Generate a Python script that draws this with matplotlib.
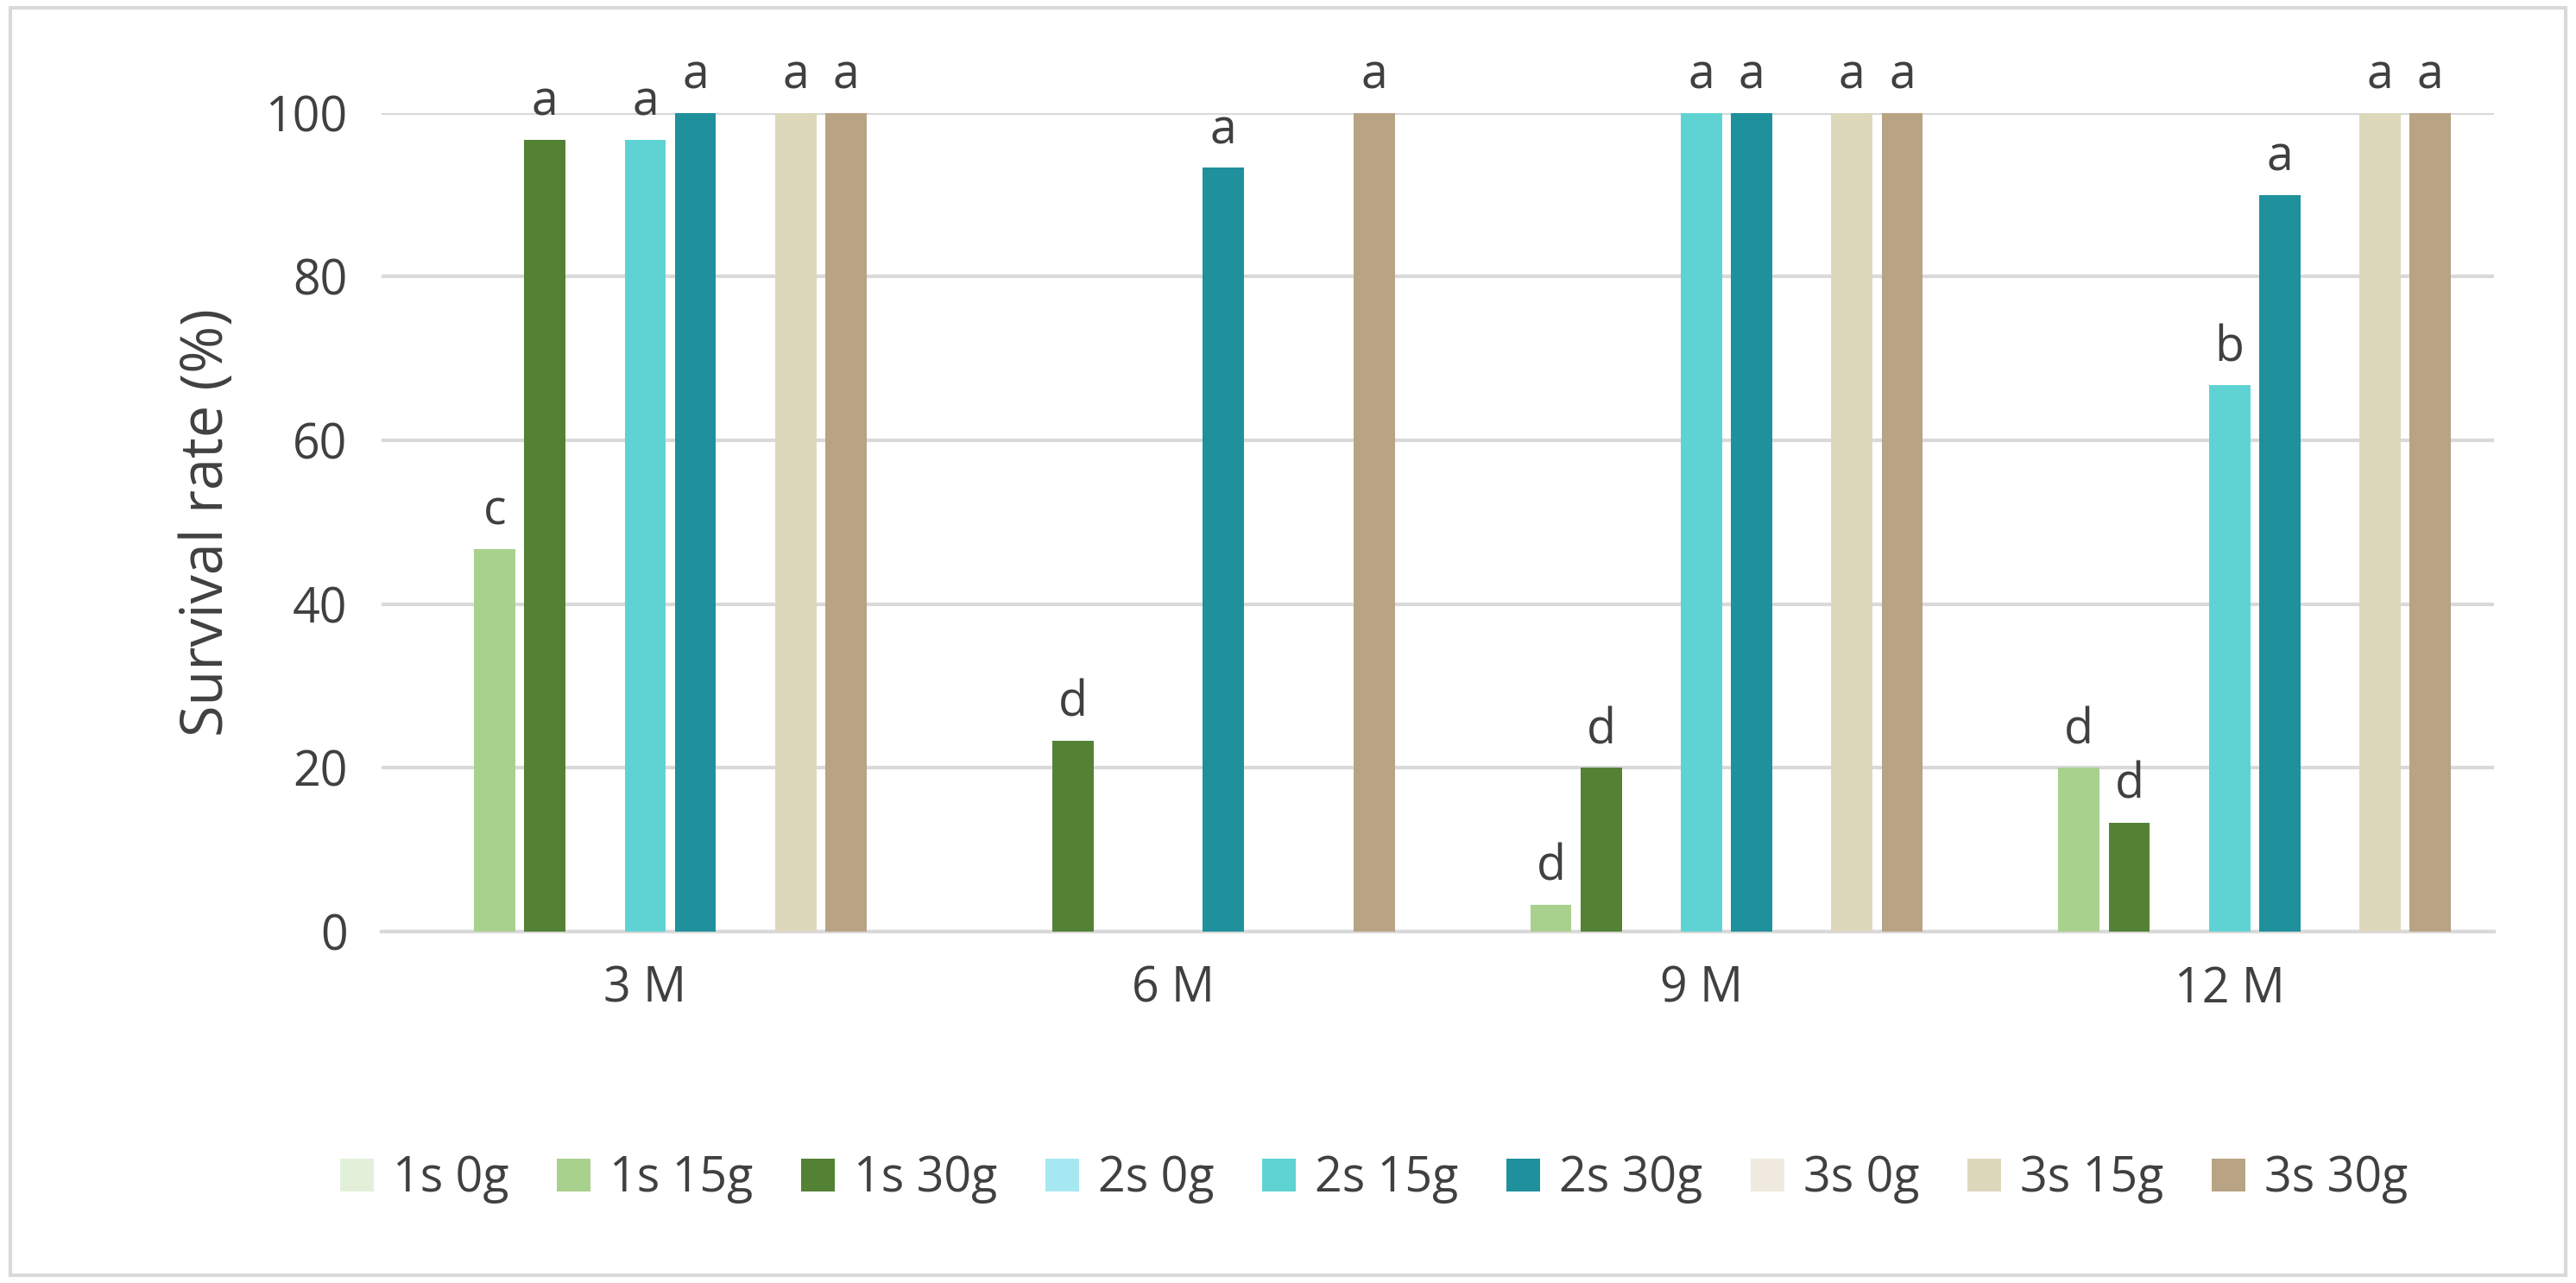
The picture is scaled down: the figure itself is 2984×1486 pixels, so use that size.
import numpy as np
import matplotlib.pyplot as plt
from matplotlib.patches import Rectangle

plt.rcParams['font.family'] = ['Open Sans', 'DejaVu Sans']

groups = ["3 M", "6 M", "9 M", "12 M"]
series = ["1s 0g", "1s 15g", "1s 30g", "2s 0g", "2s 15g", "2s 30g", "3s 0g", "3s 15g", "3s 30g"]
colors = ["#e2f0d9", "#a9d18e", "#548235", "#a6e8f2", "#5fd3d3", "#1f919c",
          "#efe9df", "#ddd8bc", "#b8a385"]
values = np.array([
    [0, 46.7, 96.7, 0, 96.7, 100, 0, 100, 100],
    [0, 0, 23.3, 0, 0, 93.3, 0, 0, 100],
    [0, 3.3, 20, 0, 100, 100, 0, 100, 100],
    [0, 20, 13.3, 0, 66.7, 90, 0, 100, 100],
])
letters = [
    ["", "c", "a", "", "a", "a", "", "a", "a"],
    ["", "", "d", "", "", "a", "", "", "a"],
    ["", "d", "d", "", "a", "a", "", "a", "a"],
    ["", "d", "d", "", "b", "a", "", "a", "a"],
]

txt = "#404040"
fig = plt.figure(figsize=(14.92, 7.43), dpi=200)
ax = fig.add_axes([0.148, 0.274, 0.82, 0.638])
x = np.arange(len(groups))
slot, w = 0.095, 0.078
for j, name in enumerate(series):
    pos = x + (j - 4) * slot
    ax.bar(pos, values[:, j], w, color=colors[j], label=name, zorder=3)
    for i in range(len(groups)):
        if letters[i][j]:
            ax.text(pos[i], values[i, j] + 1.5, letters[i][j], ha="center", va="bottom",
                    fontsize=20, color=txt)

ax.set_xlim(-0.5, 3.5)
ax.set_ylim(0, 100)
ax.set_yticks(range(0, 101, 20))
ax.set_xticks(x, groups)
ax.yaxis.grid(True, color="#d9d9d9", linewidth=1.5, zorder=0)
for s in ["top", "right", "left"]:
    ax.spines[s].set_visible(False)
ax.spines["bottom"].set_color("#d9d9d9")
ax.spines["bottom"].set_linewidth(1.5)
ax.tick_params(length=0, labelsize=20, colors=txt, pad=14)
ax.set_ylabel("Survival rate (%)", fontsize=24, color=txt, labelpad=12)

ax.legend(loc="upper center", bbox_to_anchor=(0.47, -0.22), ncol=9, frameon=False,
          fontsize=20, labelcolor=txt, handlelength=0.7, handleheight=0.7,
          columnspacing=1.0, handletextpad=0.4)

fig.patches.append(Rectangle((0.004, 0.006), 0.992, 0.988, transform=fig.transFigure,
                             fill=False, edgecolor="#d9d9d9", linewidth=1.5))
fig.savefig("out.png")
